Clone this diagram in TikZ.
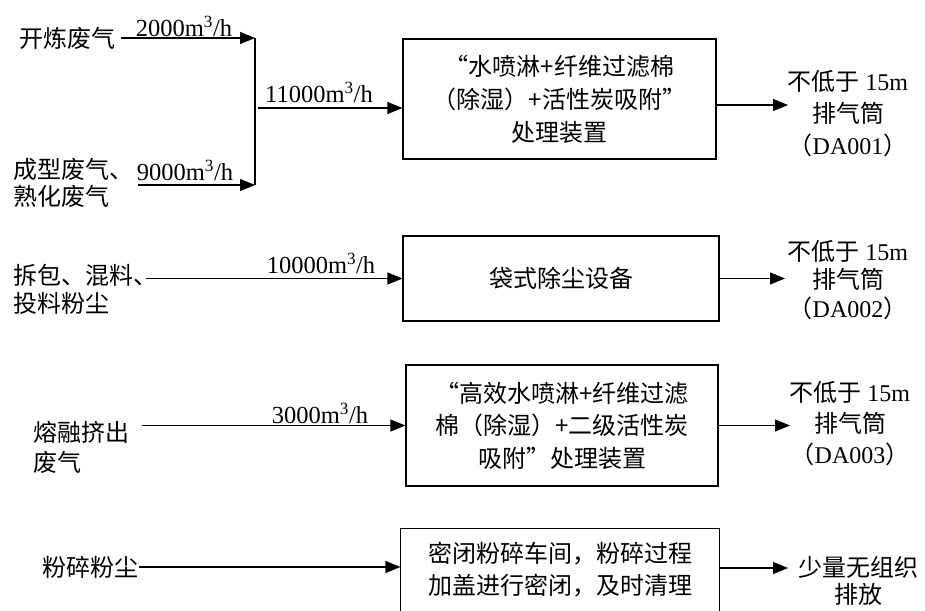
\documentclass[tikz,border=0pt]{standalone}
\usepackage{fontspec}
\setmainfont{Liberation Serif}
\newfontfamily\cjk{Noto Sans CJK SC}
\usetikzlibrary{arrows.meta}
\begin{document}
\begin{tikzpicture}[x=1pt,y=-1pt,
  line width=1.2pt,
  arr/.style={-{Triangle[length=15pt,width=12pt]}},
  flow/.style={inner sep=0pt,font=\fontsize{24.5}{30}\selectfont},
  zh/.style={inner sep=0pt,font=\cjk\fontsize{24}{#1}\selectfont},
  zh/.default=30,
  procbox/.style={draw,inner sep=0pt,align=center}
]
\useasboundingbox (0,0) rectangle (925,610);

% ---------- row 1 ----------
\node[zh] (kl) at (67,38) {开炼废气};
\node[zh=27,align=left,anchor=west] (cx) at (13,183) {成型废气、\\熟化废气};
\coordinate (jt) at (255,38);
\coordinate (jb) at (255,185);
\coordinate (jm) at (255,108);
\node[flow] (f1) at (184,26) {2000m\textsuperscript{3}/h};
\node[flow] (f2) at (185,170) {9000m\textsuperscript{3}/h};
\node[flow] (f3) at (319,92) {11000m\textsuperscript{3}/h};
\node[procbox,zh=33,minimum width=313pt,minimum height=120pt] (box1) at (559.5,99)
  {“水喷淋+纤维过滤棉\\（除湿）+活性炭吸附”\\处理装置};
\coordinate (o1) at (788,105);
\node[zh=32,align=center] (out1) at (848,114) {不低于 {\rmfamily 15m}\\排气筒\\（{\rmfamily DA001}）};

\draw[arr] ([xshift=5pt]kl.east) -- (jt);
\draw[arr] ([xshift=4pt]cx.east |- jb) -- (jb);
\draw (jt) -- (jb);
\draw[arr] ([xshift=3pt]jm) -- (box1.west |- jm);
\draw[arr] (box1.east |- o1) -- (o1);

% ---------- row 2 ----------
\node[zh=28,align=left,anchor=west] (cb) at (13,289) {拆包、混料、\\投料粉尘};
\node[flow] (f4) at (321,263) {10000m\textsuperscript{3}/h};
\node[procbox,zh,minimum width=316pt,minimum height=85pt] (box2) at (561,278.5) {袋式除尘设备};
\coordinate (o2) at (785,278.5);
\node[zh=28.5,align=center] (out2) at (848,280) {不低于 {\rmfamily 15m}\\排气筒\\（{\rmfamily DA002}）};

\draw[arr] ([xshift=-12pt]cb.east |- box2.west) -- (box2.west);
\draw[arr] (box2.east) -- (o2);

% ---------- row 3 ----------
\node[zh=30,align=left,anchor=west] (rr) at (33,447) {熔融挤出\\废气};
\node[flow] (f5) at (320,413) {3000m\textsuperscript{3}/h};
\node[procbox,zh=32.5,minimum width=312pt,minimum height=121pt] (box3) at (562,425.5)
  {“高效水喷淋+纤维过滤\\棉（除湿）+二级活性炭\\吸附”处理装置};
\coordinate (o3) at (790,425.5);
\node[zh=31,align=center] (out3) at (850,424) {不低于 {\rmfamily 15m}\\排气筒\\（{\rmfamily DA003}）};

\draw[arr] ([xshift=12pt]rr.east |- box3.west) -- (box3.west);
\draw[arr] (box3.east) -- (o3);

% ---------- row 4 ----------
\node[zh] (fs) at (90,567) {粉碎粉尘};
\node[zh=32,align=center,minimum width=318pt,minimum height=82pt] (box4) at (560,570)
  {密闭粉碎车间，粉碎过程\\加盖进行密闭，及时清理};
\draw (box4.south west) |- (box4.north east) -- (box4.south east);
\coordinate (o4) at (788,568);
\node[zh=27,align=center] (out4) at (858,581) {少量无组织\\排放};

\draw[arr] (fs.east) -- (box4.west |- fs.east);
\draw[arr] (box4.east |- o4) -- (o4);
\end{tikzpicture}
\end{document}
